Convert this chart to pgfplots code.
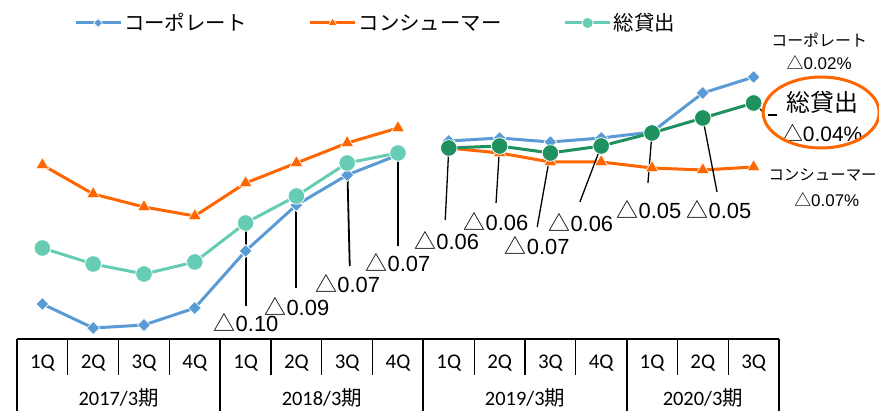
\documentclass[border=0pt]{standalone}
\usepackage{fontspec}
\setmainfont{Noto Sans CJK JP}
\newfontfamily\carlito{Carlito}
\newfontfamily\arial{Liberation Sans}
\usepackage{pgfplots}
\pgfplotsset{compat=1.18}
\definecolor{corp}{RGB}{91,155,213}
\definecolor{cons}{RGB}{255,102,0}
\definecolor{tot}{RGB}{102,204,180}
\definecolor{totd}{RGB}{30,145,95}
\newcommand{\tri}[1]{△{\arial #1}}
\pgfplotsset{
  legend image code/.code={\draw[mark repeat=2,mark phase=2,#1, every mark/.append style={scale=0.68}] plot coordinates {(0bp,0bp) (22.5bp,0bp) (45bp,0bp)};},
  corpstyle/.style={corp, line width=3bp, mark=square*, mark size=4.6bp, mark options={rotate=45, fill=corp, draw=white, line width=0.6bp}},
  consstyle/.style={cons, line width=3bp, mark=triangle*, mark size=7.5bp, mark options={fill=cons, draw=white, line width=0.6bp}},
  totstyle/.style={#1, line width=3bp, mark=*, mark size=8.3bp, mark options={fill=#1, draw=white, line width=0.8bp}},
}
\begin{document}
\begin{tikzpicture}
\useasboundingbox (0,0) rectangle (879bp,411bp);
\begin{axis}[
  at={(17bp,72bp)}, anchor=south west,
  scale only axis, width=762bp, height=339bp,
  xmin=-0.5, xmax=14.5, ymin=0, ymax=3.39,
  clip=false,
  axis x line*=bottom, axis y line=none,
  x axis line style={line width=2.5bp, black, -},
  major tick length=0pt,
  xtick={0,...,14},
  xticklabels={1Q,2Q,3Q,4Q,1Q,2Q,3Q,4Q,1Q,2Q,3Q,4Q,1Q,2Q,3Q},
  xticklabel style={font=\carlito\fontsize{21}{21}\selectfont, anchor=center, yshift=-24bp},
  legend columns=3,
  legend style={at={(axis cs:0.62,3.16)}, anchor=west, draw=none, fill=none,
    font=\fontsize{20.5}{24}\selectfont, inner sep=0pt,
    nodes={inner sep=2bp},
    /tikz/every even column/.append style={column sep=60bp}},
]
\addplot[corpstyle] coordinates {(0,0.35) (1,0.11) (2,0.14) (3,0.31) (4,0.88) (5,1.34) (6,1.64) (7,1.84)};
\addlegendentry{コーポレート}
\addplot[consstyle] coordinates {(0,1.74) (1,1.45) (2,1.32) (3,1.23) (4,1.56) (5,1.76) (6,1.96) (7,2.11)};
\addlegendentry{コンシューマー}
\addplot[totstyle=tot] coordinates {(0,0.91) (1,0.75) (2,0.65) (3,0.77) (4,1.16) (5,1.43) (6,1.76) (7,1.86)};
\addlegendentry{総貸出}
\addplot[corpstyle, forget plot] coordinates {(8,1.98) (9,2.01) (10,1.97) (11,2.01) (12,2.07) (13,2.46) (14,2.62)};
\addplot[consstyle, forget plot] coordinates {(8,1.91) (9,1.86) (10,1.77) (11,1.77) (12,1.71) (13,1.69) (14,1.72)};
\addplot[totstyle=totd, forget plot] coordinates {(8,1.91) (9,1.93) (10,1.86) (11,1.93) (12,2.06) (13,2.21) (14,2.36)};

% leader lines
\draw[line width=2bp] (axis cs:4,1.16) -- (axis cs:4,0.33);
\draw[line width=2bp] (axis cs:5,1.43) -- (axis cs:5,0.51);
\draw[line width=1.8bp] (axis cs:6,1.76) -- (axis cs:6.05,0.73);
\draw[line width=1.8bp] (axis cs:7,1.86) -- (axis cs:7,0.93);
\draw[line width=1.3bp] (axis cs:8,1.91) -- (axis cs:7.93,1.19);
\draw[line width=1.3bp] (axis cs:9,1.93) -- (axis cs:8.93,1.36);
\draw[line width=1.3bp] (axis cs:10,1.86) -- (axis cs:9.74,1.12);
\draw[line width=1.3bp] (axis cs:11,1.93) -- (axis cs:10.58,1.37);
\draw[line width=1.3bp] (axis cs:12,2.06) -- (axis cs:11.92,1.56);
\draw[line width=1.3bp] (axis cs:13,2.21) -- (axis cs:13.28,1.47);
\draw[line width=1.2bp] (axis cs:14,2.36) -- (axis cs:14.19,2.27);
\draw[line width=1.2bp] (axis cs:14.28,2.24) -- (axis cs:14.46,2.24);

\begin{scope}[every node/.style={font=\fontsize{22}{22}\selectfont, inner sep=0pt}]
\node at (axis cs:4.01,0.16) {\tri{0.10}};
\node at (axis cs:5.01,0.32) {\tri{0.09}};
\node at (axis cs:6.01,0.55) {\tri{0.07}};
\node at (axis cs:7.0,0.76) {\tri{0.07}};
\node at (axis cs:7.96,0.98) {\tri{0.06}};
\node at (axis cs:8.93,1.17) {\tri{0.06}};
\node at (axis cs:9.74,0.93) {\tri{0.07}};
\node at (axis cs:10.6,1.16) {\tri{0.06}};
\node at (axis cs:11.94,1.29) {\tri{0.05}};
\node at (axis cs:13.32,1.29) {\tri{0.05}};
\end{scope}

\node[font=\fontsize{16}{16}\selectfont, inner sep=0pt] at (axis cs:15.29,2.99) {コーポレート};
\node[font=\fontsize{17}{17}\selectfont, inner sep=0pt] at (axis cs:15.29,2.76) {\tri{0.02\%}};
\node[font=\fontsize{24}{24}\selectfont, inner sep=0pt] at (axis cs:15.35,2.37) {総貸出};
\node[font=\fontsize{21}{21}\selectfont, inner sep=0pt] at (axis cs:15.35,2.06) {\tri{0.04\%}};
\draw[cons, line width=3bp] (axis cs:15.33,2.265) ellipse [x radius=58bp, y radius=35.5bp];
\node[font=\fontsize{15.5}{15.5}\selectfont, inner sep=0pt, anchor=west] at (axis cs:14.29,1.64) {コンシューマー};
\node[font=\fontsize{17}{17}\selectfont, inner sep=0pt] at (axis cs:15.44,1.39) {\tri{0.07\%}};

% table
\pgfplotsinvokeforeach{0.5,1.5,2.5,4.5,5.5,6.5,8.5,9.5,10.5,12.5,13.5}{
  \draw[line width=1.3bp] (axis cs:#1,0) -- (axis cs:#1,-0.36);
}
\pgfplotsinvokeforeach{-0.5,3.5,7.5,11.5,14.5}{
  \draw[line width=2bp] (axis cs:#1,0) -- (axis cs:#1,-0.75);
}
\begin{scope}[every node/.style={font=\fontsize{20.5}{20.5}\selectfont, inner sep=0pt}]
\node at (axis cs:1.5,-0.585) {{\carlito 2017/3}期};
\node at (axis cs:5.5,-0.585) {{\carlito 2018/3}期};
\node at (axis cs:9.5,-0.585) {{\carlito 2019/3}期};
\node at (axis cs:13,-0.585) {{\carlito 2020/3}期};
\end{scope}
\end{axis}
\end{tikzpicture}
\end{document}
